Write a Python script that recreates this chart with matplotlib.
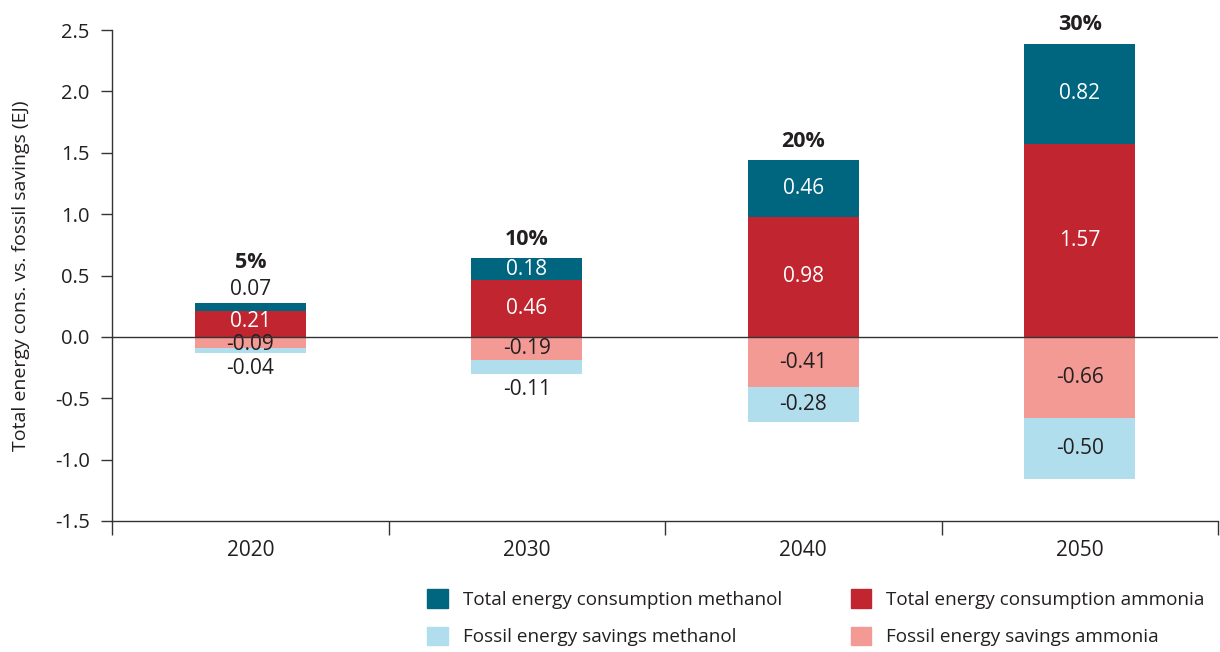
import numpy as np
import matplotlib.pyplot as plt
from matplotlib.patches import Patch

plt.rcParams['font.family'] = ['Open Sans', 'DejaVu Sans']
plt.rcParams['axes.unicode_minus'] = False

# ======================
# DATA
# ======================
years = ["2020", "2030", "2040", "2050"]
shares = ["5%", "10%", "20%", "30%"]
cons_ammonia = [0.21, 0.46, 0.98, 1.57]
cons_methanol = [0.07, 0.18, 0.46, 0.82]
save_ammonia = [-0.09, -0.19, -0.41, -0.66]
save_methanol = [-0.04, -0.11, -0.28, -0.50]
yticks = [-1.5, -1.0, -0.5, 0.0, 0.5, 1.0, 1.5, 2.0, 2.5]

C_METH = "#00657e"
C_AMM = "#c1252f"
C_AMM_L = "#f39a94"
C_METH_L = "#b1deec"
TXT = "#231f20"

fig = plt.figure(figsize=(12.2, 6.52), dpi=100)
ax = fig.add_axes([112 / 1220, 1 - 521 / 652, (1218 - 112) / 1220, (521 - 30) / 652])

x = np.arange(len(years))
w = 0.4
ca = np.array(cons_ammonia)
cm = np.array(cons_methanol)
sa = np.array(save_ammonia)
sm = np.array(save_methanol)

ax.bar(x, ca, w, color=C_AMM, zorder=2)
ax.bar(x, cm, w, bottom=ca, color=C_METH, zorder=2)
ax.bar(x, sa, w, color=C_AMM_L, zorder=2)
ax.bar(x, sm, w, bottom=sa, color=C_METH_L, zorder=2)

SMALL = 0.12
FS = 15
for i in range(len(years)):
    # ammonia consumption (centre)
    ax.text(x[i], ca[i] / 2 + (0.02 if ca[i] < 0.3 else 0), f"{ca[i]:.2f}", ha="center", va="center",
            color="white", fontsize=FS, zorder=3)
    # methanol consumption (top)
    top = ca[i] + cm[i]
    if cm[i] < SMALL:
        ax.text(x[i], top + 0.02, f"{cm[i]:.2f}", ha="center", va="bottom",
                color=TXT, fontsize=FS, zorder=3)
        pct_y = top + 0.24
    else:
        ax.text(x[i], ca[i] + cm[i] / 2, f"{cm[i]:.2f}", ha="center", va="center",
                color="white", fontsize=FS, zorder=3)
        pct_y = top + 0.07
    ax.text(x[i], pct_y, shares[i], ha="center", va="bottom",
            color=TXT, fontsize=15.5, fontweight="bold", zorder=3)
    # ammonia savings
    ax.text(x[i], sa[i] / 2 - (0.02 if -sa[i] < 0.12 else 0), f"{sa[i]:.2f}", ha="center", va="center",
            color=TXT, fontsize=FS, zorder=3)
    # methanol savings (bottom)
    bot = sa[i] + sm[i]
    if -sm[i] < SMALL:
        ax.text(x[i], bot - 0.04, f"{sm[i]:.2f}", ha="center", va="top",
                color=TXT, fontsize=FS, zorder=3)
    else:
        ax.text(x[i], sa[i] + sm[i] / 2, f"{sm[i]:.2f}", ha="center", va="center",
                color=TXT, fontsize=FS, zorder=3)

ax.axhline(0, color="#333333", lw=1, zorder=4)

ax.set_xlim(-0.5, len(years) - 0.5)
ax.set_ylim(-1.5, 2.5)
ax.set_yticks(yticks)
ax.set_yticklabels([f"{v:.1f}" for v in yticks])
ax.set_xticks(x)
ax.set_xticklabels(years)
ax.set_xticks(np.arange(-0.5, len(years)), minor=True)
ax.tick_params(axis="x", which="major", length=0, pad=14, labelsize=15, labelcolor=TXT)
ax.tick_params(axis="x", which="minor", length=10, width=1, color="#333333", direction="out")
ax.tick_params(axis="y", length=8, width=1, color="#333333", labelsize=14.5, labelcolor=TXT, pad=8)

for s in ["top", "right"]:
    ax.spines[s].set_visible(False)
for s in ["left", "bottom"]:
    ax.spines[s].set_color("#333333")
    ax.spines[s].set_linewidth(1)

ax.set_ylabel("Total energy cons. vs. fossil savings (EJ)", fontsize=14, color=TXT, labelpad=18)

handles = [Patch(color=C_METH), Patch(color=C_METH_L), Patch(color=C_AMM), Patch(color=C_AMM_L)]
labels = ["Total energy consumption methanol", "Fossil energy savings methanol",
          "Total energy consumption ammonia", "Fossil energy savings ammonia"]
fig.legend(handles, labels, ncol=2, loc="upper left", bbox_to_anchor=(418 / 1220, 1 - 580 / 652),
           frameon=False, fontsize=13.6, handlelength=1.1, handleheight=1.1,
           columnspacing=3.6, labelspacing=0.95, handletextpad=0.8, borderpad=0,
           labelcolor=TXT)

fig.savefig("out.png", dpi=100)
